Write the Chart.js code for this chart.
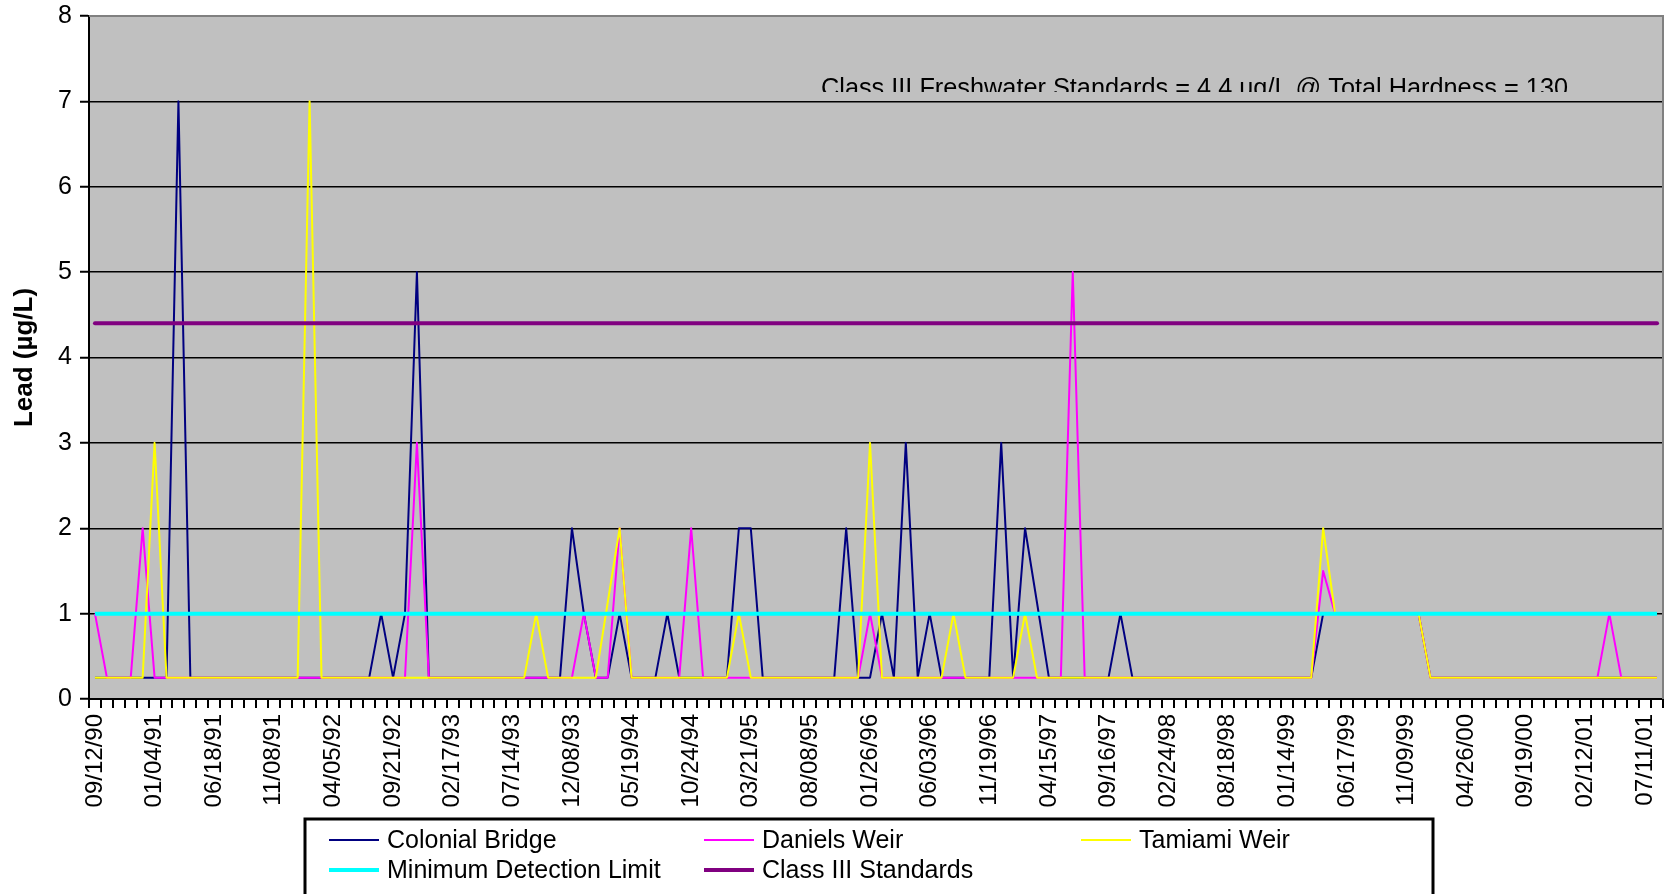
<!DOCTYPE html>
<html>
<head>
<meta charset="utf-8">
<script src="https://cdn.jsdelivr.net/npm/chart.js@4"></script>
<style>
  html, body { margin: 0; padding: 0; background: #fff; }
  canvas { display: block; }
</style>
</head>
<body>
<canvas id="myChart" width="1665" height="894"></canvas>
<script>
// date labels, one every 5 samples
const tickLabels = [
  "09/12/90", "01/04/91", "06/18/91", "11/08/91", "04/05/92", "09/21/92",
  "02/17/93", "07/14/93", "12/08/93", "05/19/94", "10/24/94", "03/21/95",
  "08/08/95", "01/26/96", "06/03/96", "11/19/96", "04/15/97", "09/16/97",
  "02/24/98", "08/18/98", "01/14/99", "06/17/99", "11/09/99", "04/26/00",
  "09/19/00", "02/12/01", "07/11/01"
];
const labelStep = 5;

// lead (ug/L), 132 samples; 0.25 = below detection
const colonialBridge = [
  0.25, 0.25, 0.25, 0.25, 0.25, 0.25, 0.25, 7, 0.25, 0.25,
  0.25, 0.25, 0.25, 0.25, 0.25, 0.25, 0.25, 0.25, 0.25, 0.25,
  0.25, 0.25, 0.25, 0.25, 1, 0.25, 1, 5, 0.25, 0.25,
  0.25, 0.25, 0.25, 0.25, 0.25, 0.25, 0.25, 0.25, 0.25, 0.25,
  2, 1, 0.25, 0.25, 1, 0.25, 0.25, 0.25, 1, 0.25,
  0.25, 0.25, 0.25, 0.25, 2, 2, 0.25, 0.25, 0.25, 0.25,
  0.25, 0.25, 0.25, 2, 0.25, 0.25, 1, 0.25, 3, 0.25,
  1, 0.25, 0.25, 0.25, 0.25, 0.25, 3, 0.25, 2, 1.13,
  0.25, 0.25, 0.25, 0.25, 0.25, 0.25, 1, 0.25, 0.25, 0.25,
  0.25, 0.25, 0.25, 0.25, 0.25, 0.25, 0.25, 0.25, 0.25, 0.25,
  0.25, 0.25, 0.25, 1, 1, 1, 1, 1, 1, 1,
  1, 1, 0.25, 0.25, 0.25, 0.25, 0.25, 0.25, 0.25, 0.25,
  0.25, 0.25, 0.25, 0.25, 0.25, 0.25, 0.25, 0.25, 0.25, 0.25,
  0.25, 0.25
];
const danielsWeir = [
  1, 0.25, 0.25, 0.25, 2, 0.25, 0.25, 0.25, 0.25, 0.25,
  0.25, 0.25, 0.25, 0.25, 0.25, 0.25, 0.25, 0.25, 0.25, 0.25,
  0.25, 0.25, 0.25, 0.25, 0.25, 0.25, 0.25, 3, 0.25, 0.25,
  0.25, 0.25, 0.25, 0.25, 0.25, 0.25, 0.25, 0.25, 0.25, 0.25,
  0.25, 1, 0.25, 0.25, 2, 0.25, 0.25, 0.25, 0.25, 0.25,
  2, 0.25, 0.25, 0.25, 0.25, 0.25, 0.25, 0.25, 0.25, 0.25,
  0.25, 0.25, 0.25, 0.25, 0.25, 1, 0.25, 0.25, 0.25, 0.25,
  0.25, 0.25, 0.25, 0.25, 0.25, 0.25, 0.25, 0.25, 0.25, 0.25,
  0.25, 0.25, 5, 0.25, 0.25, 0.25, 0.25, 0.25, 0.25, 0.25,
  0.25, 0.25, 0.25, 0.25, 0.25, 0.25, 0.25, 0.25, 0.25, 0.25,
  0.25, 0.25, 0.25, 1.5, 1, 1, 1, 1, 1, 1,
  1, 1, 0.25, 0.25, 0.25, 0.25, 0.25, 0.25, 0.25, 0.25,
  0.25, 0.25, 0.25, 0.25, 0.25, 0.25, 0.25, 1, 0.25, 0.25,
  0.25, 0.25
];
const tamiamiWeir = [
  0.25, 0.25, 0.25, 0.25, 0.25, 3, 0.25, 0.25, 0.25, 0.25,
  0.25, 0.25, 0.25, 0.25, 0.25, 0.25, 0.25, 0.25, 7, 0.25,
  0.25, 0.25, 0.25, 0.25, 0.25, 0.25, 0.25, 0.25, 0.25, 0.25,
  0.25, 0.25, 0.25, 0.25, 0.25, 0.25, 0.25, 1, 0.25, 0.25,
  0.25, 0.25, 0.25, 1.13, 2, 0.25, 0.25, 0.25, 0.25, 0.25,
  0.25, 0.25, 0.25, 0.25, 1, 0.25, 0.25, 0.25, 0.25, 0.25,
  0.25, 0.25, 0.25, 0.25, 0.25, 3, 0.25, 0.25, 0.25, 0.25,
  0.25, 0.25, 1, 0.25, 0.25, 0.25, 0.25, 0.25, 1, 0.25,
  0.25, 0.25, 0.25, 0.25, 0.25, 0.25, 0.25, 0.25, 0.25, 0.25,
  0.25, 0.25, 0.25, 0.25, 0.25, 0.25, 0.25, 0.25, 0.25, 0.25,
  0.25, 0.25, 0.25, 2, 1, 1, 1, 1, 1, 1,
  1, 1, 0.25, 0.25, 0.25, 0.25, 0.25, 0.25, 0.25, 0.25,
  0.25, 0.25, 0.25, 0.25, 0.25, 0.25, 0.25, 0.25, 0.25, 0.25,
  0.25, 0.25
];
const detectionLimit = 1;
const classIIIStandard = 4.4;
const noteText = "Class III Freshwater Standards = 4.4 ug/L @ Total Hardness = 130";

const categories = colonialBridge.map((v, i) =>
  i % labelStep === 0 ? tickLabels[i / labelStep] : ""
);

const fontFamily = "'Liberation Sans', Arial, sans-serif";
Chart.defaults.font.family = fontFamily;
Chart.defaults.color = "#000";

// gray plot area, clipped note text, frame and legend box
const excelLook = {
  id: "excelLook",
  beforeDraw(chart) {
    const { ctx, chartArea: a } = chart;
    ctx.save();
    ctx.fillStyle = "#c0c0c0";
    ctx.fillRect(a.left, a.top, a.right - a.left, a.bottom - a.top);
    ctx.restore();
  },
  beforeDatasetsDraw(chart) {
    const { ctx } = chart;
    ctx.save();
    ctx.beginPath();
    ctx.rect(800, 60, 800, 32);
    ctx.clip();
    ctx.font = "25.3px " + fontFamily;
    ctx.fillStyle = "#000";
    ctx.textBaseline = "alphabetic";
    ctx.fillText(noteText, 821, 96);
    ctx.restore();
  },
  afterDraw(chart) {
    const { ctx, chartArea: a } = chart;
    ctx.save();
    ctx.strokeStyle = "#808080";
    ctx.lineWidth = 2;
    ctx.beginPath();
    ctx.moveTo(a.left, a.top);
    ctx.lineTo(a.right, a.top);
    ctx.lineTo(a.right, a.bottom);
    ctx.stroke();

    // legend
    ctx.fillStyle = "#fff";
    ctx.fillRect(305, 819, 1128, 80);
    ctx.strokeStyle = "#000";
    ctx.lineWidth = 3;
    ctx.strokeRect(305, 819, 1128, 80);
    const cols = [329, 704, 1081];
    const rows = [840, 870];
    ctx.font = "25px " + fontFamily;
    ctx.textBaseline = "middle";
    chart.data.datasets.forEach((ds, i) => {
      const x = cols[i % 3];
      const y = rows[Math.floor(i / 3)];
      ctx.strokeStyle = ds.borderColor;
      ctx.lineWidth = ds.borderWidth;
      ctx.beginPath();
      ctx.moveTo(x, y);
      ctx.lineTo(x + 50, y);
      ctx.stroke();
      ctx.fillStyle = "#000";
      ctx.fillText(ds.label, x + 58, y + 1);
    });
    ctx.restore();
  }
};

const ctx = document.getElementById("myChart");
const chart = new Chart(ctx, {
  type: "line",
  data: {
    labels: categories,
    datasets: [
      { label: "Colonial Bridge", data: colonialBridge, borderColor: "#000080", borderWidth: 2, order: 5 },
      { label: "Daniels Weir", data: danielsWeir, borderColor: "#ff00ff", borderWidth: 2, order: 4 },
      { label: "Tamiami Weir", data: tamiamiWeir, borderColor: "#ffff00", borderWidth: 2, order: 3 },
      { label: "Minimum Detection Limit", data: categories.map(() => detectionLimit), borderColor: "#00ffff", borderWidth: 4, order: 2 },
      { label: "Class III Standards", data: categories.map(() => classIIIStandard), borderColor: "#800080", borderWidth: 4, order: 1, borderCapStyle: "round" },
    ],
  },
  options: {
    responsive: false,
    animation: false,
    devicePixelRatio: 1,
    layout: { padding: { top: 16, right: 2, left: 0, bottom: 0 } },
    elements: {
      point: { radius: 0 },
      line: { tension: 0, fill: false, borderJoinStyle: "round" },
    },
    plugins: {
      legend: { display: false },
      tooltip: { enabled: false },
    },
    scales: {
      x: {
        offset: true,
        grid: { offset: true, drawOnChartArea: false, tickLength: 9, color: "#000", lineWidth: 2 },
        border: { color: "#000", width: 2 },
        ticks: { autoSkip: false, minRotation: 90, maxRotation: 90, padding: 6, font: { size: 24 }, color: "#000" },
        afterFit(scale) {
          scale.height = 195;
          scale.paddingLeft = 0;
          scale.paddingRight = 0;
        },
      },
      y: {
        min: 0,
        max: 8,
        ticks: { stepSize: 1, padding: 8, font: { size: 25 }, color: "#000" },
        grid: { color: "#000", lineWidth: 1.5, tickLength: 9, tickWidth: 2 },
        border: { color: "#000", width: 2 },
        title: { display: true, text: "Lead (µg/L)", font: { size: 26, weight: "bold" }, padding: { top: 9, bottom: 0 } },
        afterFit(scale) {
          scale.width = 89;
          scale.paddingTop = 0;
          scale.paddingBottom = 0;
        },
      },
    },
  },
  plugins: [excelLook],
});
</script>
</body>
</html>
